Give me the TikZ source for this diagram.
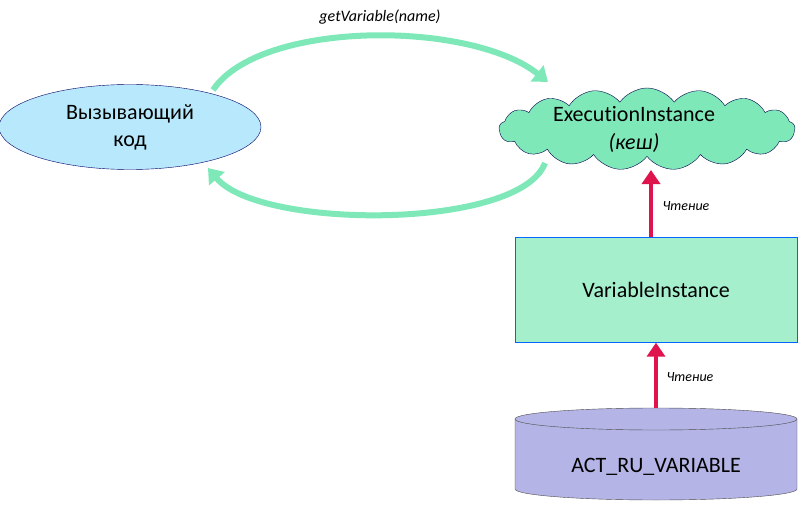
\documentclass[tikz,border=0pt]{standalone}
\usepackage{fontspec}
\setmainfont[RawFeature=-liga]{Carlito}
\usetikzlibrary{shapes.geometric,shapes.symbols,arrows.meta}
\definecolor{gr}{HTML}{7EE8B8}
\definecolor{rd}{HTML}{E0144C}
\definecolor{cy}{HTML}{B4B4E6}
\begin{document}
\begin{tikzpicture}[x=1pt,y=-1pt,
  big/.style={font=\fontsize{22}{27}\selectfont},
  lab/.style={font=\fontsize{14}{16}\selectfont\itshape},
  rarr/.style={draw=rd,line width=4pt,-{Triangle[length=14pt,width=18pt]}},
  garr/.style={draw=gr,line width=6pt,-{Triangle[length=14pt,width=20pt]}}]
\useasboundingbox (0,0) rectangle (798,508);
\node[ellipse,draw=black!60!blue,fill=cyan!28!white,minimum width=262pt,minimum height=85pt,big,align=center] (call) at (130,127) {Вызывающий\\код};
\node[cloud,cloud puffs=17,cloud puff arc=110,aspect=3.6,draw=black!70!blue,fill=gr,minimum width=296pt,minimum height=82pt,inner sep=0pt] (ex) at (647,129) {};
\node[big] (t1) at (634,114) {ExecutionInstance};
\node[big,font=\fontsize{22}{27}\selectfont\itshape] (t2) at (634,143) {(кеш)};
\node[draw=blue!60!cyan,fill=gr!70!white,minimum width=282pt,minimum height=105pt,big] (vi) at (656,290) {VariableInstance};
\path[draw=black!70,fill=cy] (515,419) -- (515,489) arc[start angle=180,end angle=0,x radius=141,y radius=11] -- (797,419) arc[start angle=0,end angle=-180,x radius=141,y radius=11] -- cycle;
\draw[black!70] (515,419) arc[start angle=180,end angle=0,x radius=141,y radius=11];
\coordinate (dbtop) at (656,408);
\node[big] (dbt) at (656,467) {ACT\_RU\_VARIABLE};
\draw[rarr] (651,237) -- (651,170);
\node[lab] (l1) at (686,206) {Чтение};
\draw[rarr] (dbtop) -- (vi.south);
\node[lab] (l2) at (690,377) {Чтение};
\coordinate (a1) at (213,90);
\coordinate (a2) at (548,82);
\draw[garr] (a1) .. controls (260,20) and (470,20) .. (a2);
\coordinate (b1) at (545,163);
\coordinate (b2) at (208,168);
\draw[garr] (b1) .. controls (520,230) and (260,230) .. (b2);
\node[lab,font=\fontsize{16}{18}\selectfont\itshape] (gv) at (380,17) {getVariable(name)};
\end{tikzpicture}
\end{document}
